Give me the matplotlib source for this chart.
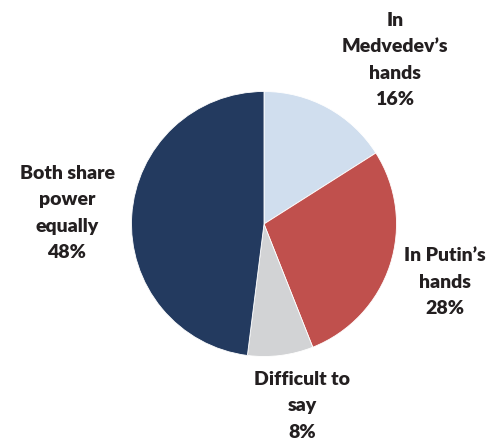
import matplotlib
matplotlib.use("Agg")
import matplotlib.pyplot as plt

# who holds power - survey shares
labels = ["In\nMedvedev\u2019s\nhands\n16%", "In Putin\u2019s\nhands\n28%",
          "Difficult to\nsay\n8%", "Both share\npower\nequally\n48%"]
shares = [16, 28, 8, 48]
colors = ["#d0deee", "#c0504d", "#d2d3d5", "#233a5f"]

# label centres in pixels (from top-left)
label_pos = [(395, 60), (445, 282), (302, 406), (67, 213)]

W, H = 492, 441
fig = plt.figure(figsize=(W / 100, H / 100), dpi=100)

cx, cy, r = 264, 224, 132.5
ax = fig.add_axes([(cx - r) / W, (H - cy - r) / H, 2 * r / W, 2 * r / H])
ax.pie(shares, colors=colors, startangle=90, counterclock=False,
       wedgeprops=dict(edgecolor="white", linewidth=0.6))
ax.set_xlim(-1, 1)
ax.set_ylim(-1, 1)
ax.axis("off")

for text, (px, py) in zip(labels, label_pos):
    fig.text(px / W, 1 - py / H, text, ha="center", va="center",
             fontsize=14, fontweight="heavy", family="Lato",
             color="#231f20", linespacing=1.65)

fig.savefig("out.png", dpi=100)
